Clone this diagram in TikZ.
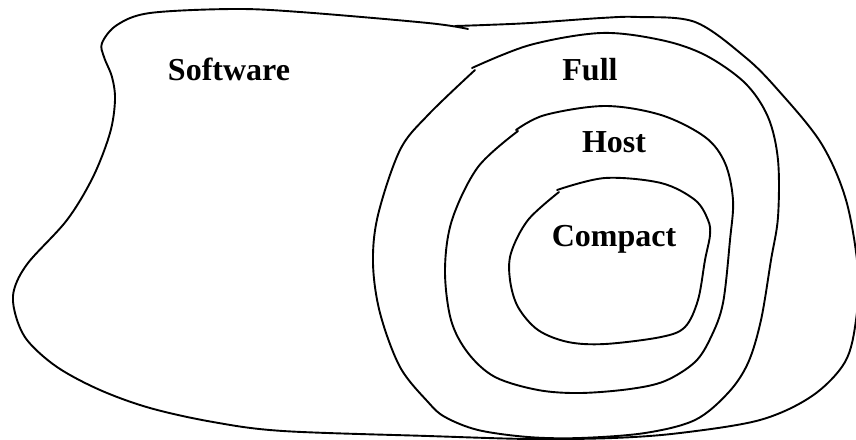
\documentclass[tikz,border=0pt]{standalone}
\usepackage{fontspec}
\setmainfont{Liberation Serif}
\begin{document}
\begin{tikzpicture}[x=1pt,y=-1pt,
  outline/.style={draw=black,line width=1.9pt,line join=round,line cap=round},
  lbl/.style={anchor=base,inner sep=0pt,font=\fontsize{32}{32}\selectfont\bfseries}]
\useasboundingbox (0,0) rectangle (856,439);
\begin{scope}
\clip (0,0) rectangle (856,439);
% Software: the outer free-hand region
\draw[outline] plot[smooth,tension=0.55] coordinates {
  (455,26) (485,25) (530,23) (601,18) (638,17) (695,22) (745,57) (778,90)
  (821,143) (846,200) (858,270) (856,320) (845,362) (812,396) (760,420)
  (680,433) (613,438) (530,439) (428,436) (283,431) (213,422) (150,408)
  (100,390) (57,367) (27,340) (15,313) (14,290) (28,263) (67,220)
  (93,177) (110,133) (115,100) (112,77) (104,57) (102,43) (117,25)
  (150,13) (233,9) (300,12) (428,23) (468,29)};
% Full
\draw[outline] plot[smooth,tension=0.55] coordinates {
  (472,68) (530,45) (601,33) (661,40) (705,55) (745,83) (768,117)
  (778,160) (778,217) (771,260) (761,320) (748,363) (728,393) (695,420)
  (645,433) (580,438) (528,437) (478,430) (445,417) (428,402) (400,367)
  (380,313) (373,263) (378,215) (400,150) (428,115) (475,70)};
% Host
\draw[outline] plot[smooth,tension=0.55] coordinates {
  (516,130) (545,115) (605,106) (661,115) (705,137) (725,163) (733,200)
  (730,240) (723,303) (711,337) (695,362) (665,381) (630,389) (580,393)
  (538,390) (495,377) (468,353) (451,320) (445,270) (452,220) (478,167)
  (518,131)};
% Compact
\draw[outline] plot[smooth,tension=0.55] coordinates {
  (557,190) (605,178) (661,183) (695,200) (708,220) (710,235) (705,260)
  (698,300) (685,327) (661,337) (605,344) (568,342) (538,330) (518,307)
  (510,280) (511,253) (528,220) (559,192)};
\end{scope}
\node[lbl] (software) at (229,80) {Software};
\node[lbl] (full) at (590,80) {Full};
\node[lbl] (host) at (614,152) {Host};
\node[lbl] (compact) at (614,246) {Compact};
\end{tikzpicture}
\end{document}
